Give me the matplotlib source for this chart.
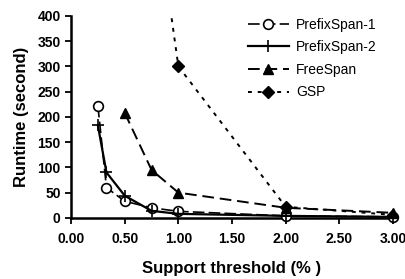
import numpy as np
import matplotlib
matplotlib.use("Agg")
import matplotlib.pyplot as plt

plt.rcParams['font.family'] = ['Liberation Sans', 'DejaVu Sans']

# data
support_prefix = [0.25, 0.33, 0.50, 0.75, 1.00, 2.00, 3.00]
prefixspan1 = [222, 60, 33, 20, 13, 4, 2]
prefixspan2 = [183, 90, 44, 14, 8, 4, 2]

support_free = [0.50, 0.75, 1.00, 2.00, 3.00]
freespan = [208, 95, 50, 20, 10]

support_gsp = [0.75, 1.00, 2.00, 3.00]
gsp = [680, 300, 22, 6]

x_ticks = [0.0, 0.5, 1.0, 1.5, 2.0, 2.5, 3.0]
y_ticks = [0, 50, 100, 150, 200, 250, 300, 350, 400]

fig = plt.figure(figsize=(4.06, 2.79), dpi=100)
ax = fig.add_axes([0.175, 0.219, 0.793, 0.724])

ax.plot(support_prefix, prefixspan1, color='black', lw=1.2, dashes=(7, 2.5),
        marker='o', markersize=7, markerfacecolor='white', markeredgewidth=1.2,
        label='PrefixSpan-1', clip_on=False, zorder=3)
ax.plot(support_prefix, prefixspan2, color='black', lw=1.6, linestyle='-',
        marker='+', markersize=9, markeredgewidth=1.2,
        label='PrefixSpan-2', clip_on=False, zorder=3)
ax.plot(support_free, freespan, color='black', lw=1.4, dashes=(6, 3),
        marker='^', markersize=7, label='FreeSpan', clip_on=False, zorder=3)
ax.plot(support_gsp, gsp, color='black', lw=1.4, dashes=(2, 3),
        marker='D', markersize=6, label='GSP', zorder=3)

ax.set_xlim(0, 3.0)
ax.set_ylim(0, 400)
ax.set_xticks(x_ticks)
ax.set_xticklabels(['%.2f' % t for t in x_ticks])
ax.set_yticks(y_ticks)

for side in ['top', 'right']:
    ax.spines[side].set_visible(False)
ax.spines['left'].set_linewidth(1.8)
ax.spines['bottom'].set_linewidth(1.8)
ax.tick_params(axis='both', direction='out', length=4, width=1.3,
               labelsize=10)
ax.tick_params(axis='x', pad=6)
for lab in ax.get_xticklabels() + ax.get_yticklabels():
    lab.set_fontweight('bold')

ax.set_xlabel('Support threshold (% )', fontsize=12, fontweight='bold',
              labelpad=11)
ax.set_ylabel('Runtime (second)', fontsize=12, fontweight='bold',
              labelpad=6)

ax.legend(loc='upper left', bbox_to_anchor=(0.61, 0.937),
          bbox_transform=fig.transFigure, frameon=False, fontsize=10,
          handlelength=3.0, handletextpad=0.5, labelspacing=0.62,
          borderpad=0, borderaxespad=0)

fig.savefig('out.png', dpi=100)
